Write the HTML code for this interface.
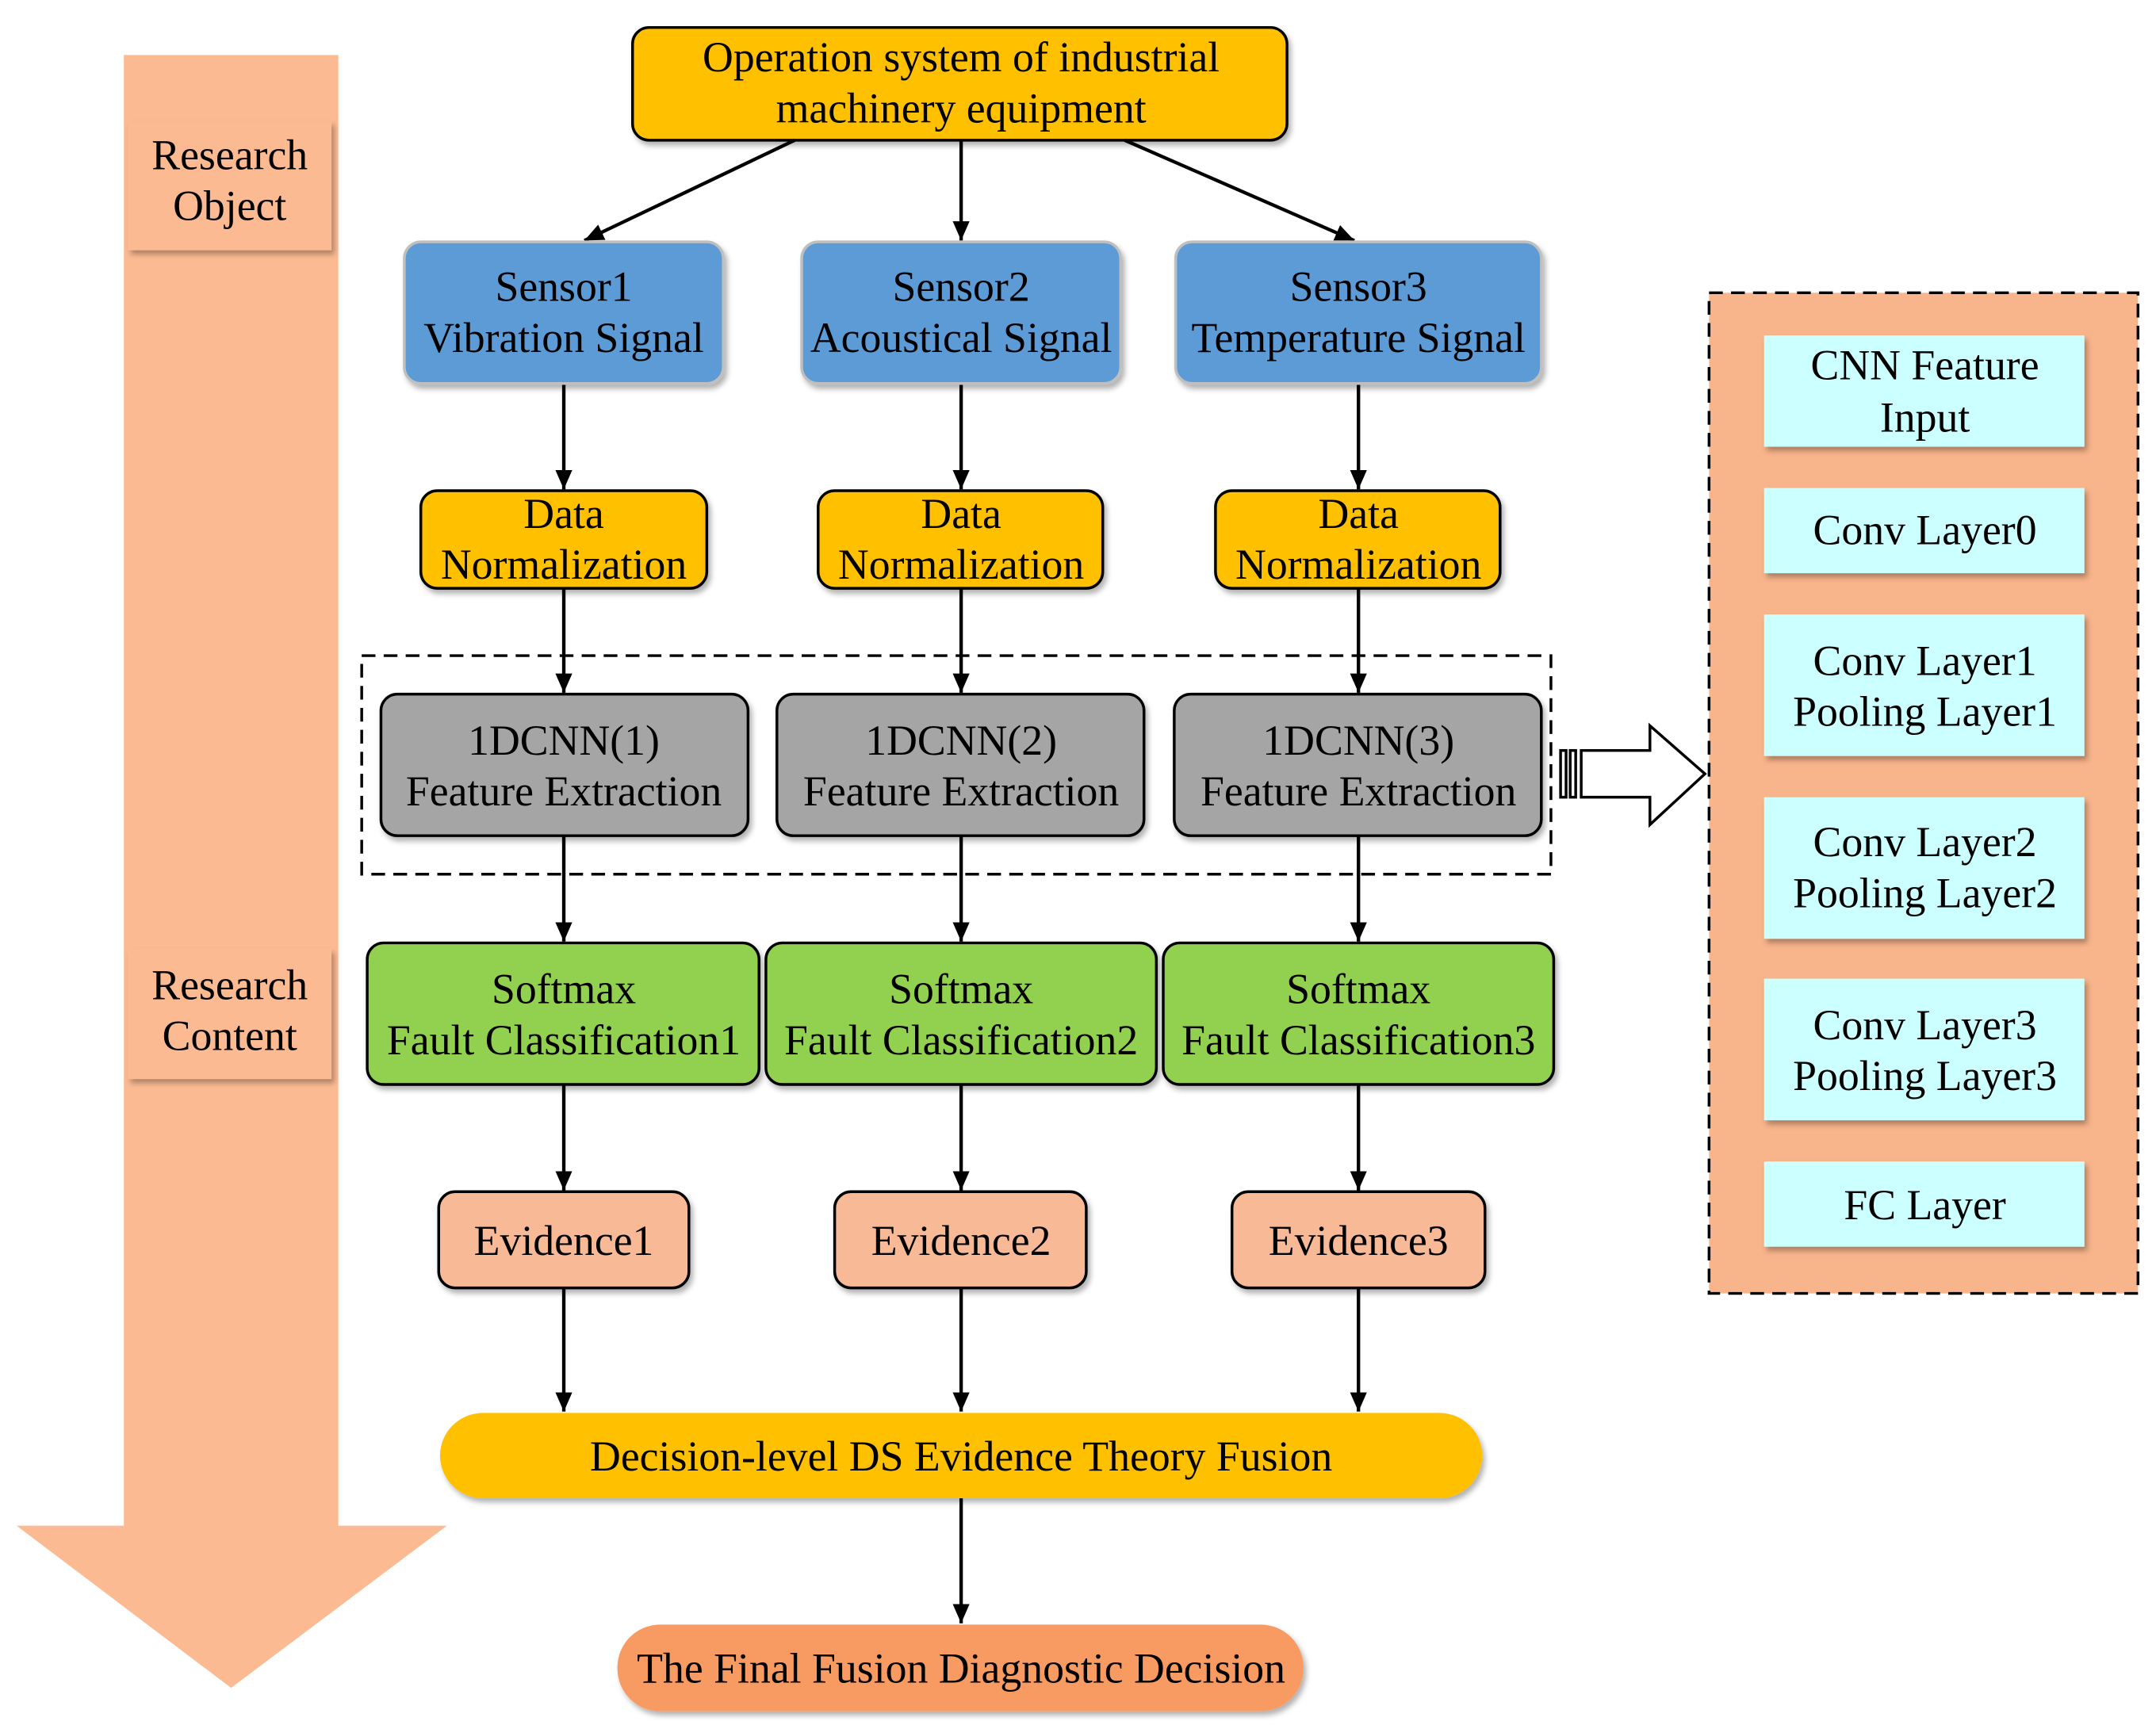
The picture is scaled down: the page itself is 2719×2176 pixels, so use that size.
<!DOCTYPE html>
<html><head><meta charset="utf-8"><style>
html,body{margin:0;padding:0;background:#fff;}
svg{display:block;}
text{font-family:"Liberation Serif",serif;font-size:31px;fill:#000;text-anchor:middle;}
</style></head><body>
<svg width="2719" height="2176" viewBox="0 0 1568 1255" xmlns="http://www.w3.org/2000/svg">
<defs>
<marker id="ah" markerWidth="14" markerHeight="16" refX="16" refY="7" orient="auto" markerUnits="userSpaceOnUse" viewBox="0 0 16 14">
<path d="M0,0 L16,7 L0,14 z" fill="#000"/></marker>
<filter id="sh" x="-10%" y="-10%" width="130%" height="140%"><feDropShadow dx="2" dy="3" stdDeviation="2" flood-color="#000" flood-opacity="0.3"/></filter>
</defs>
<path d="M90,40 H246 V1110 H325 L168,1228 L12,1110 H90 Z" fill="#FBBA92"/>
<rect x="93" y="88" width="148" height="94" fill="#FBBA92" filter="url(#sh)"/>
<text x="167" y="123">Research</text><text x="167" y="160">Object</text>
<rect x="93" y="690" width="148" height="95" fill="#FBBA92" filter="url(#sh)"/>
<text x="167" y="727">Research</text><text x="167" y="764">Content</text>

<rect x="460" y="20" width="476" height="82" rx="12" fill="#FFC000" stroke="#000" stroke-width="2" filter="url(#sh)"/>
<text x="699" y="52">Operation system of industrial</text><text x="699" y="89">machinery equipment</text>

<g stroke="#000" stroke-width="2.5" marker-end="url(#ah)">
<line x1="578" y1="102" x2="425" y2="175"/>
<line x1="699" y1="102" x2="699" y2="175"/>
<line x1="818" y1="102" x2="985" y2="175"/>
<line x1="410" y1="279" x2="410" y2="356"/><line x1="699" y1="279" x2="699" y2="356"/><line x1="988" y1="279" x2="988" y2="356"/>
<line x1="410" y1="428" x2="410" y2="504"/><line x1="699" y1="428" x2="699" y2="504"/><line x1="988" y1="428" x2="988" y2="504"/>
<line x1="410" y1="608" x2="410" y2="685"/><line x1="699" y1="608" x2="699" y2="685"/><line x1="988" y1="608" x2="988" y2="685"/>
<line x1="410" y1="789" x2="410" y2="866"/><line x1="699" y1="789" x2="699" y2="866"/><line x1="988" y1="789" x2="988" y2="866"/>
<line x1="410" y1="937" x2="410" y2="1027"/><line x1="699" y1="937" x2="699" y2="1027"/><line x1="988" y1="937" x2="988" y2="1027"/>
<line x1="699" y1="1090" x2="699" y2="1181"/>
</g>

<g fill="#5B9BD5" stroke="#BFBFBF" stroke-width="2" filter="url(#sh)">
<rect x="294" y="176" width="232" height="103" rx="12"/>
<rect x="583" y="176" width="232" height="103" rx="12"/>
<rect x="855" y="176" width="266" height="103" rx="12"/>
</g>
<text x="410" y="219">Sensor1</text><text x="410" y="256">Vibration Signal</text>
<text x="699" y="219">Sensor2</text><text x="699" y="256">Acoustical Signal</text>
<text x="988" y="219">Sensor3</text><text x="988" y="256">Temperature Signal</text>

<g fill="#FFC000" stroke="#000" stroke-width="2" filter="url(#sh)">
<rect x="306" y="357" width="208" height="71" rx="12"/>
<rect x="595" y="357" width="207" height="71" rx="12"/>
<rect x="884" y="357" width="207" height="71" rx="12"/>
</g>
<text x="410" y="384">Data</text><text x="410" y="421">Normalization</text>
<text x="699" y="384">Data</text><text x="699" y="421">Normalization</text>
<text x="988" y="384">Data</text><text x="988" y="421">Normalization</text>

<rect x="263" y="477" width="865" height="159" fill="none" stroke="#000" stroke-width="2" stroke-dasharray="10,6"/>
<g fill="#A5A5A5" stroke="#000" stroke-width="2" filter="url(#sh)">
<rect x="277" y="505" width="267" height="103" rx="12"/>
<rect x="565" y="505" width="267" height="103" rx="12"/>
<rect x="854" y="505" width="267" height="103" rx="12"/>
</g>
<text x="410" y="549">1DCNN(1)</text><text x="410" y="586">Feature Extraction</text>
<text x="699" y="549">1DCNN(2)</text><text x="699" y="586">Feature Extraction</text>
<text x="988" y="549">1DCNN(3)</text><text x="988" y="586">Feature Extraction</text>

<g fill="#92D050" stroke="#000" stroke-width="2" filter="url(#sh)">
<rect x="267" y="686" width="285" height="103" rx="12"/>
<rect x="557" y="686" width="284" height="103" rx="12"/>
<rect x="846" y="686" width="284" height="103" rx="12"/>
</g>
<text x="410" y="730">Softmax</text><text x="410" y="767">Fault Classification1</text>
<text x="699" y="730">Softmax</text><text x="699" y="767">Fault Classification2</text>
<text x="988" y="730">Softmax</text><text x="988" y="767">Fault Classification3</text>

<g fill="#F8B996" stroke="#000" stroke-width="2" filter="url(#sh)">
<rect x="319" y="867" width="182" height="70" rx="12"/>
<rect x="607" y="867" width="183" height="70" rx="12"/>
<rect x="896" y="867" width="184" height="70" rx="12"/>
</g>
<text x="410" y="913">Evidence1</text><text x="699" y="913">Evidence2</text><text x="988" y="913">Evidence3</text>

<rect x="320" y="1028" width="758" height="62" rx="31" fill="#FFC000" filter="url(#sh)"/>
<text x="699" y="1070">Decision-level DS Evidence Theory Fusion</text>
<rect x="449" y="1182" width="499" height="63" rx="31" fill="#F79B62" filter="url(#sh)"/>
<text x="699" y="1224">The Final Fusion Diagnostic Decision</text>

<g fill="#fff" stroke="#000" stroke-width="2">
<rect x="1135" y="546" width="4" height="34"/>
<rect x="1142" y="546" width="4" height="34"/>
<path d="M1150,546 H1200 V528 L1240,563 L1200,600 V580 H1150 Z"/>
</g>

<rect x="1243" y="213" width="312" height="728" fill="#F8B48A" stroke="#000" stroke-width="2" stroke-dasharray="10,6"/>
<g fill="#CCFFFF" filter="url(#sh)">
<rect x="1283" y="244" width="233" height="81"/>
<rect x="1283" y="355" width="233" height="62"/>
<rect x="1283" y="447" width="233" height="103"/>
<rect x="1283" y="580" width="233" height="103"/>
<rect x="1283" y="712" width="233" height="103"/>
<rect x="1283" y="845" width="233" height="62"/>
</g>
<text x="1400" y="276">CNN Feature</text><text x="1400" y="314">Input</text>
<text x="1400" y="396">Conv Layer0</text>
<text x="1400" y="491">Conv Layer1</text><text x="1400" y="528">Pooling Layer1</text>
<text x="1400" y="623">Conv Layer2</text><text x="1400" y="660">Pooling Layer2</text>
<text x="1400" y="756">Conv Layer3</text><text x="1400" y="793">Pooling Layer3</text>
<text x="1400" y="887">FC Layer</text>
</svg>
</body></html>
